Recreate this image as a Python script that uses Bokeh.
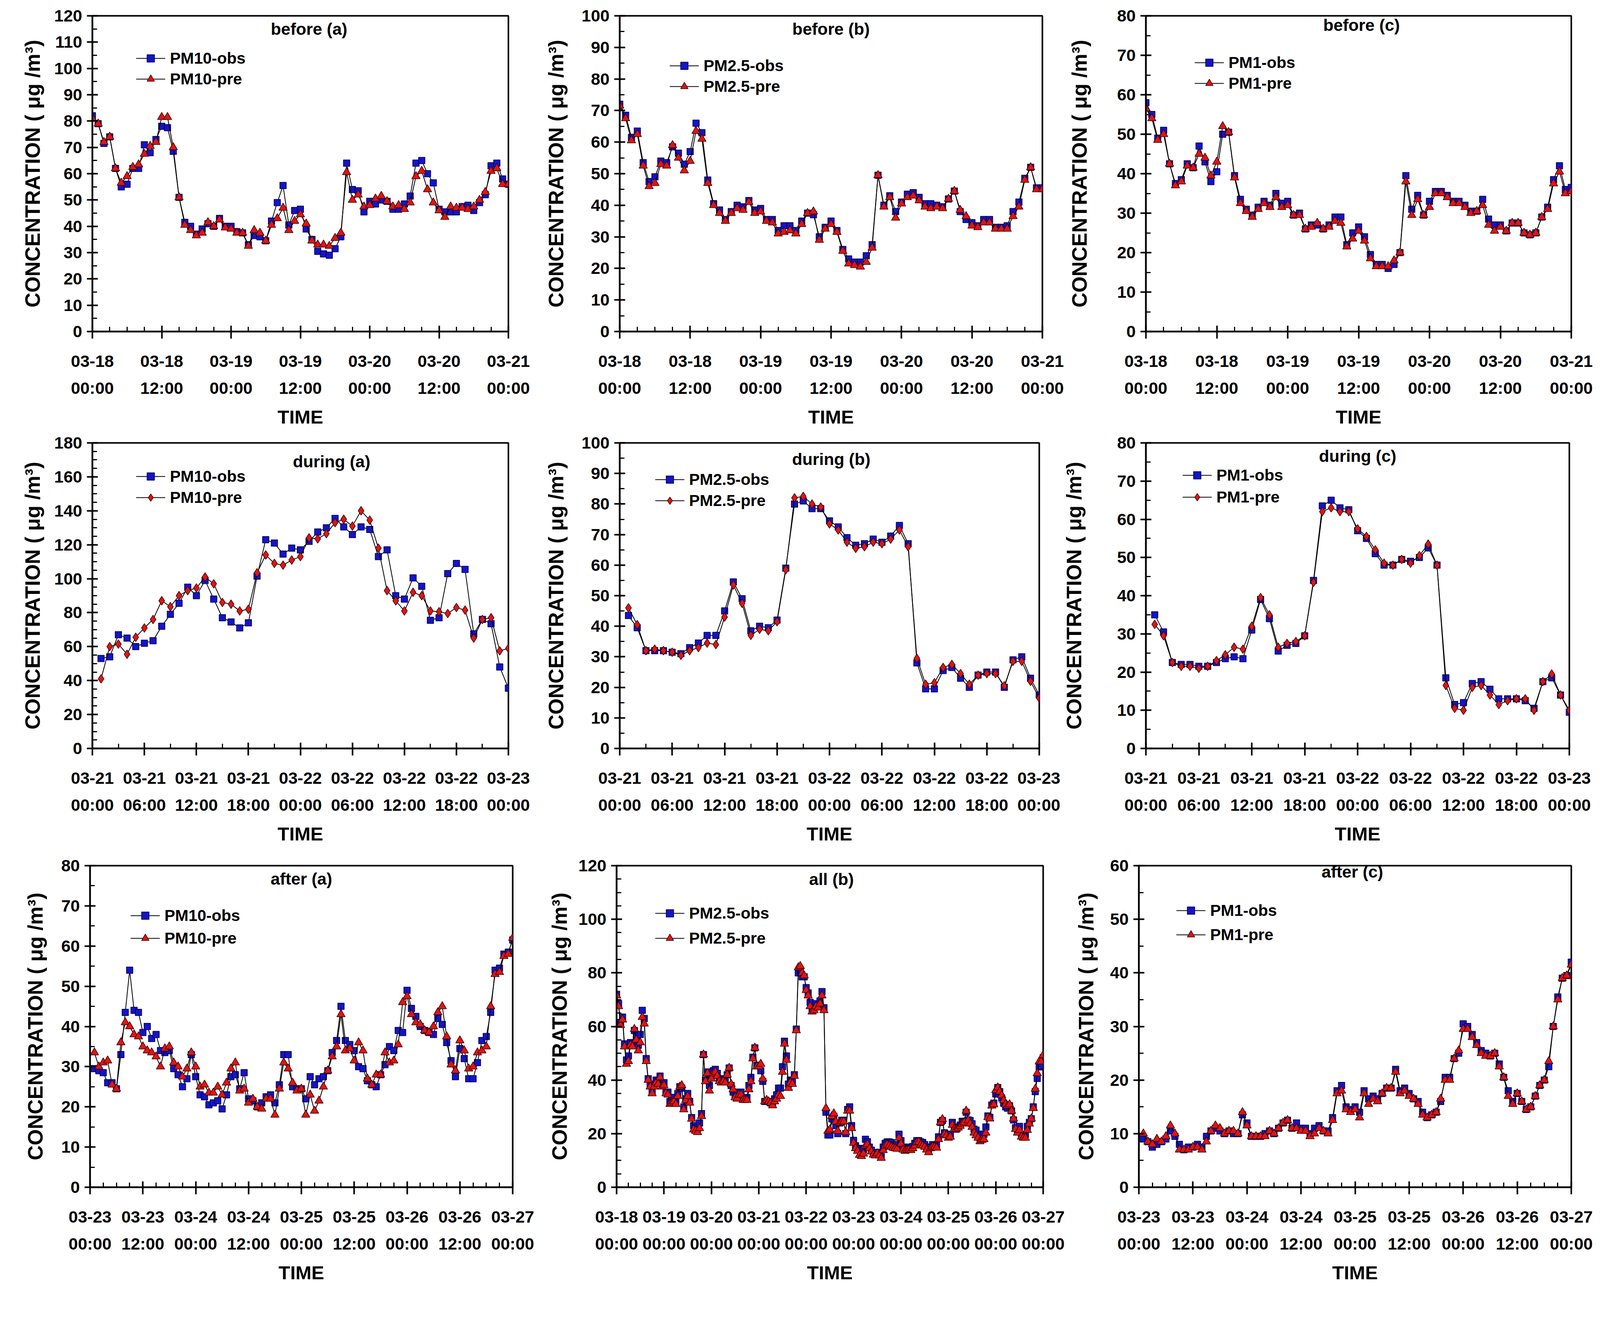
from bokeh.plotting import figure
from bokeh.models import Range1d, FixedTicker, SingleIntervalTicker, Legend, LegendItem, Label
from bokeh.layouts import column, row
from bokeh.embed import file_html
from bokeh.resources import INLINE

# ---------------- data ----------------
before_hours = list(range(0, 73))
during_hours = list(range(1, 49))
after_hours = list(range(1, 97))
all_hours = list(range(0, 217))

before_labels = ["03-18\n00:00", "03-18\n12:00", "03-19\n00:00", "03-19\n12:00",
                 "03-20\n00:00", "03-20\n12:00", "03-21\n00:00"]
during_labels = ["03-21\n00:00", "03-21\n06:00", "03-21\n12:00", "03-21\n18:00", "03-22\n00:00",
                 "03-22\n06:00", "03-22\n12:00", "03-22\n18:00", "03-23\n00:00"]
after_labels = ["03-23\n00:00", "03-23\n12:00", "03-24\n00:00", "03-24\n12:00", "03-25\n00:00",
                "03-25\n12:00", "03-26\n00:00", "03-26\n12:00", "03-27\n00:00"]
all_labels = ["03-18\n00:00", "03-19\n00:00", "03-20\n00:00", "03-21\n00:00", "03-22\n00:00",
              "03-23\n00:00", "03-24\n00:00", "03-25\n00:00", "03-26\n00:00", "03-27\n00:00"]

before_a_obs = [82, 79, 71.5, 74, 62, 55, 56, 62, 62, 71, 68, 73, 78, 77.5, 68.5, 51, 41.5, 40, 37, 39,
                41, 40, 43, 40, 40, 38, 37.5, 33, 36.5, 36, 34.5, 42, 49, 55.5, 40.5, 46, 46.5, 39, 35, 30.5,
                29.5, 29, 31.5, 36, 64, 54, 53.5, 45.5, 49.5, 48.5, 50, 49.5, 46.5, 46.5, 48.5, 51.5, 64, 65,
                60, 56.5, 46.5, 45.5, 45.5, 45.5, 47.5, 48, 46, 49, 52, 63, 64, 58, 56]
before_a_pre = [81, 79, 72, 74, 62, 56.5, 59, 62.5, 63.5, 67.5, 70.5, 72, 81.5, 81.5, 70, 51, 40.5, 38.5,
                36.5, 37.5, 41.5, 40, 42.5, 39.5, 39, 37.5, 37.5, 32.5, 38.5, 37.5, 34.5, 40.5, 43, 47, 38.5,
                42, 44.5, 41, 34.5, 33, 33, 32.5, 35.5, 37.5, 60.5, 50, 52, 47.5, 48, 50.5, 51.5, 49.5, 47.5,
                48, 46.5, 49, 59, 61, 54, 49, 46, 43.5, 47.5, 47, 47, 46.5, 47.5, 50, 53, 61, 62, 56, 56]

before_b_obs = [72, 68.5, 61.5, 63.5, 53.5, 47.5, 49, 54, 53.5, 58.5, 56.5, 53, 57, 66, 63, 48, 40.5, 38.5,
                35.5, 38, 40, 39.5, 41.5, 38.5, 39, 35.5, 35.5, 32, 33.5, 33.5, 32, 35, 37.5, 37, 30, 33, 35,
                32, 26, 23, 22, 22, 24, 27.5, 49.5, 40, 43, 38, 41, 43.5, 44, 42.5, 40.5, 40.5, 40, 39.5, 42,
                44.5, 38, 35.5, 34.5, 33.5, 35.5, 35.5, 33, 33, 33.5, 38, 41, 48.5, 52, 45.5, 45.5]
before_b_pre = [71.5, 67.5, 60.5, 62.5, 52.5, 46, 47, 53, 52.5, 59, 55, 51, 54, 63.5, 61, 47, 40, 37.5, 35,
                37.5, 39, 38.5, 41, 37.5, 38, 35, 34.5, 31, 31.5, 32, 31, 34, 37.5, 38, 29, 32.5, 34, 31.5,
                25.5, 21.5, 21, 20.5, 22, 26.5, 49.5, 39.5, 42.5, 36, 40.5, 42.5, 43, 41.5, 39.5, 39, 39.5,
                39, 42, 44.5, 38.5, 36.5, 33.5, 33, 34.5, 34.5, 32.5, 32.5, 32.5, 36.5, 39.5, 48, 52, 45, 45]

before_c_obs = [58, 55, 49, 51, 42.5, 37.5, 38.5, 42.5, 41.5, 47, 43, 38, 40.5, 50, 50.5, 39.5, 33.5, 31,
                29.5, 31.5, 33, 32, 35, 32.5, 33, 29.5, 30, 26, 27, 27, 26, 27, 29, 29, 22, 25, 26.5, 24,
                19.5, 17, 17, 16, 17, 20, 39.5, 31, 34.5, 29.5, 33, 35.5, 35.5, 34.5, 33, 33, 32, 30.5, 30.5,
                33.5, 28.5, 27, 27, 25.5, 27.5, 27.5, 25, 24.5, 25, 29, 31.5, 38.5, 42, 36, 36.5]
before_c_pre = [56.5, 54, 48.5, 50, 42.5, 37, 38, 42, 41.5, 45, 44, 39.5, 43, 52, 50.5, 39, 32.5, 30.5, 29,
                31, 32.5, 31.5, 34, 31.5, 32, 29.5, 29.5, 26, 26.5, 27.5, 26, 26.5, 28, 27.5, 21.5, 23.5,
                25.5, 23, 18.5, 16.5, 16.5, 16.5, 18, 20, 38, 29.5, 33.5, 29.5, 31.5, 35, 35, 34, 32.5, 32.5,
                31.5, 30, 30.5, 32, 27, 25.5, 26.5, 25.5, 27.5, 27.5, 25, 24.5, 25, 29, 31, 37.5, 40.5, 35, 35.5]

during_a_obs = [53, 54, 67, 65, 60, 62, 63.5, 72, 79, 85.5, 95, 90, 99, 88, 77, 74.5, 71, 74, 101.5, 123,
                121, 114.5, 118, 117, 122, 127.5, 130, 135.5, 130.5, 126, 130.5, 129, 113, 117, 90, 88,
                100.5, 95.5, 75.5, 77, 103, 109, 105.5, 67.5, 76, 73.5, 48, 35.5]
during_a_pre = [41, 60, 61.5, 55.5, 65.5, 71, 76, 87, 83.5, 90, 93, 94.5, 101, 97, 86, 85, 81, 82, 103.5,
                114, 109, 108, 111, 113, 124, 123.5, 126.5, 133, 135, 131, 140, 134.5, 118, 93, 87, 81, 92,
                90, 81, 80.5, 79.5, 83, 81.5, 65, 76, 77, 57.5, 59]

during_b_obs = [43.5, 39.5, 32, 32, 32, 31.5, 31, 33, 34.5, 37, 37, 45, 54.5, 49, 38.5, 40, 39.5, 42, 59, 80,
                81, 78.5, 78.5, 74.5, 72.5, 69, 66.5, 67, 68.5, 67.5, 69.5, 73, 67, 28, 19.5, 19.5, 25.5,
                26.5, 23, 20, 24, 25, 25, 20, 29, 30, 23, 17.5]
during_b_pre = [46, 40.5, 32, 32.5, 32, 31.5, 30.5, 32, 33, 34.5, 34, 43, 53.5, 47.5, 37, 39, 38.5, 41.5,
                58.5, 82, 82.5, 80, 79, 73.5, 71.5, 67.5, 65.5, 66, 67.5, 67, 68.5, 71.5, 66, 29.5, 21, 21.5,
                26.5, 27.5, 24.5, 21, 24, 24.5, 24.5, 20.5, 28.5, 28.5, 22, 16.5]

during_c_obs = [35, 30.5, 22.5, 22, 22, 21.5, 21.5, 22.5, 23.5, 24, 23.5, 31, 39, 34, 25.5, 27, 27.5, 29.5,
                44, 63.5, 65, 63, 62.5, 57, 55, 51, 48, 48, 49.5, 49, 50, 52.5, 48, 18.5, 11.5, 12, 17, 17.5,
                15.5, 13, 13, 13, 12.5, 10.5, 17.5, 18.5, 14, 9.5]
during_c_pre = [32.5, 29.5, 22.5, 21.5, 21.5, 21, 21.5, 23, 24.5, 26.5, 26, 32, 39.5, 35, 26.5, 27.5, 28,
                29.5, 43.5, 62, 63, 62, 62, 57.5, 55.5, 52, 48.5, 48, 49.5, 48.5, 50.5, 53.5, 48, 16.5, 10.5,
                10, 16, 16.5, 14, 11.5, 12.5, 13, 13, 10, 17.5, 19.5, 14, 10]

after_a_obs = [29.5, 29, 28.5, 26, 26, 24.5, 33, 43.5, 54, 44, 43.5, 38.5, 40, 37, 38, 34, 33.5, 34, 29.5,
               28, 25, 27, 33, 27.5, 23, 22.5, 20.5, 21, 21.5, 19.5, 23, 27.5, 28, 24.5, 28.5, 22, 21.5, 20,
               21, 22.5, 23, 21, 25.5, 33, 33, 25, 24.5, 24.5, 22, 27.5, 25.5, 27, 27.5, 29, 33.5, 36.5, 45,
               36.5, 35.5, 34, 30, 29.5, 26.5, 25.5, 25, 28, 30.5, 35, 34, 39, 38.5, 49, 44.5, 42.5, 40, 39,
               38.5, 38, 42, 40.5, 36, 31.5, 27.5, 34.5, 32, 27, 27, 31, 36.5, 37.5, 43.5, 54, 54.5, 58,
               58.5, 61.5]
after_a_pre = [33.5, 30, 31, 31.5, 25.5, 24.5, 36, 41, 40, 38, 37.5, 35, 34, 33.5, 32.5, 30, 34.5, 35, 31,
               30, 27.5, 29.5, 33.5, 30, 25, 25.5, 23.5, 23.5, 25, 23, 26, 29.5, 31, 24, 24.5, 21, 22, 20,
               19.5, 22, 22, 18, 24.5, 31, 29.5, 26, 24, 24.5, 18, 23, 19, 21.5, 25, 29, 32.5, 35, 43, 34,
               34.5, 31.5, 36, 34, 27, 25.5, 28, 28, 33.5, 31, 31.5, 35.5, 46, 47.5, 43, 41, 40.5, 39, 38.5,
               40, 43.5, 45, 37.5, 30.5, 29, 36.5, 34, 29.5, 30, 33.5, 34, 35, 45, 53, 53.5, 57.5, 58, 62]

after_b_obs = [15.5, 14.5, 14.5, 14, 14, 17.9, 17, 15, 13.8, 12.6, 12.3, 13, 12.3, 11.4, 15, 16.4, 16.9,
               16.9, 16.7, 15.9, 15.5, 15.9, 19.8, 17.4, 15, 14.5, 14.7, 15, 14.5, 15.2, 16.4, 17.4, 17.4,
               16.9, 16.7, 15.9, 15, 14.3, 15, 15.9, 15.5, 15.7, 18.8, 24.2, 24.9, 20.3, 19.8, 18.8, 19.8,
               24.2, 22.2, 21.7, 22.5, 23.2, 24.6, 24.6, 28, 25.1, 24.9, 23.7, 21.7, 21.3, 19.3, 18.4, 19.8,
               19.8, 22.5, 26.6, 26.1, 30.7, 31.4, 34.8, 37.2, 35.7, 33.3, 31.4, 30, 29.5, 30.4, 28.5, 25.1,
               22.2, 21.3, 22.7, 19.8, 18.8, 19.8, 22.7, 24.2, 25.6, 30, 35.7, 40.6, 44.9, 45.4, 48.3]
after_b_pre = [14.5, 13.5, 12, 11.6, 12.5, 15.5, 16, 14.5, 13.3, 12.1, 11.8, 12.6, 11.8, 10.9, 13.8, 15.5,
               15.9, 15.5, 15, 14.7, 14.5, 14.3, 18.4, 16.2, 14, 13.5, 13.8, 14, 13.8, 14.5, 15.5, 16.7,
               16.9, 15.9, 15.5, 15, 14, 13, 14.5, 15, 15, 14.7, 17.9, 24.2, 25.4, 19.8, 19.3, 18.4, 18.8,
               23.2, 21.7, 21.7, 22.2, 22.9, 23.7, 24.2, 28.5, 24.9, 23.7, 22.5, 20.3, 19.3, 18.4, 17.1,
               17.6, 17.9, 20.3, 26.1, 25.6, 30.4, 30.9, 36.2, 37.2, 35.7, 34.3, 32.4, 30.9, 30.4, 30.9,
               28.5, 25.6, 21.7, 20.3, 21.3, 18.8, 18.4, 18.4, 21.3, 23.7, 25.6, 29.5, 36.7, 42.5, 46.9,
               46.9, 49.3]

after_c_obs = [9, 8.5, 7.5, 8, 8.5, 9, 10.5, 9.5, 8, 7, 7.5, 7.5, 8, 7.5, 9.5, 10.5, 11, 10.5, 10, 10.5,
               10, 10, 13.5, 12, 9.5, 9.5, 9.5, 10, 10.5, 10, 11, 12, 12.5, 11, 12, 11, 11, 10, 11, 11.5,
               10.5, 10.5, 13, 18, 19, 15, 14.5, 15, 14, 18, 16.5, 17, 16.5, 17.5, 18.5, 18.5, 22, 18, 18.5,
               17.5, 16.5, 16, 14, 13, 13.5, 14, 16, 20.5, 20.5, 24, 25, 30.5, 30, 28.5, 27, 25.5, 25, 24.5,
               25, 23, 20.5, 18, 16, 17.5, 16, 14.5, 15, 17, 19, 20, 22.5, 30, 35.5, 39, 39.5, 42]
after_c_pre = [10, 8.5, 8, 9, 8.5, 9.5, 11.5, 10, 7, 7, 7, 7.5, 7.5, 7, 8.5, 10.5, 11.5, 11, 10, 10.5,
               10.5, 10, 14, 11.5, 9.5, 9.5, 9.5, 9.5, 10.5, 10, 11, 12, 12.5, 11, 11, 10.5, 10.5, 9.5, 10,
               11, 10.5, 10, 12.5, 17.5, 18, 14.5, 14, 14.5, 13, 17.5, 15.5, 16.5, 16, 17.5, 18.5, 18.5,
               21.5, 17.5, 18, 17, 16.5, 15.5, 13.5, 13, 13.5, 14, 16.5, 20, 20, 24, 25.5, 29.5, 29.5, 28,
               26.5, 25, 24.5, 24.5, 25, 22.5, 20.5, 17, 15.5, 17.5, 16, 14.5, 15, 17, 19, 20, 23.5, 30, 35,
               39, 39.5, 41.5]

all_b_obs = before_b_obs + during_b_obs + after_b_obs
all_b_pre = before_b_pre + during_b_pre + after_b_pre

# ---------------- styling ----------------
FONT = "Liberation Sans"
OBS_FILL, OBS_LINE = "#1414C8", "#000040"
PRE_FILL, PRE_LINE = "#E01414", "#3A0000"
YLABEL = "CONCENTRATION ( \u03bcg /m\u00b3)"
GH = 48


def xaxis_spec(kind):
    if kind == "before":
        return 72, list(range(0, 73, 12)), list(range(0, 73, 3)), before_labels
    if kind == "during":
        return 48, list(range(0, 49, 6)), list(range(0, 49, 3)), during_labels
    if kind == "after":
        return 96, list(range(0, 97, 12)), list(range(0, 97, 3)), after_labels
    return 216, list(range(0, 217, 24)), list(range(0, 217, 6)), all_labels


def panel(title, kind, hours, obs, pre, names, pre_marker, ymax, yint, ynminor,
          W, bl, fw, bt, fh, bb, ylab_standoff, title_xy, leg_x, leg_r1, leg_sp):
    xmax, majors, minors, labels = xaxis_spec(kind)
    p = figure(width=W, height=bt + fh + bb, output_backend="svg", toolbar_location=None,
               x_range=Range1d(0, xmax), y_range=Range1d(0, ymax),
               min_border_left=bl, min_border_right=W - bl - fw,
               min_border_top=bt, min_border_bottom=bb,
               background_fill_color="white", border_fill_color="white")
    p.xgrid.visible = False
    p.ygrid.visible = False
    p.outline_line_color = "black"
    p.outline_line_width = 4

    xa, ya = p.xaxis[0], p.yaxis[0]
    for ax in (xa, ya):
        ax.axis_line_width = 4
        ax.axis_line_color = "black"
        ax.major_tick_line_width = 4
        ax.minor_tick_line_width = 3
        ax.minor_tick_in = 12
        ax.minor_tick_out = 0
        ax.major_label_text_font = FONT
        ax.major_label_text_font_style = "bold"
        ax.major_label_text_font_size = "43px"
        ax.major_label_text_color = "black"
        ax.axis_label_text_font = FONT
        ax.axis_label_text_font_style = "bold"
        ax.axis_label_text_color = "black"
    xa.major_tick_in = 15
    xa.major_tick_out = 18
    ya.major_tick_in = 14
    ya.major_tick_out = 14

    xa.ticker = FixedTicker(ticks=majors, minor_ticks=minors)
    xa.major_label_overrides = {t: s for t, s in zip(majors, labels)}
    xa.major_label_standoff = 33
    xa.major_label_text_line_height = 1.44
    xa.axis_label = "TIME"
    xa.axis_label_text_font_size = "49px"
    xa.axis_label_standoff = 20

    ya.ticker = SingleIntervalTicker(interval=yint, num_minor_ticks=ynminor)
    ya.major_label_standoff = 12
    ya.axis_label = YLABEL
    ya.axis_label_text_font_size = "53px"
    ya.axis_label_standoff = ylab_standoff

    l1 = p.line(hours, obs, line_color="black", line_width=2)
    s1 = p.scatter(hours, obs, marker="square", size=16.5, fill_color=OBS_FILL,
                   line_color=OBS_LINE, line_width=1.5)
    l2 = p.line(hours, pre, line_color="black", line_width=2)
    psize = 21.5 if pre_marker == "triangle" else 22.5
    s2 = p.scatter(hours, pre, marker=pre_marker, size=psize, fill_color=PRE_FILL,
                   line_color=PRE_LINE, line_width=1.5)

    leg_h = 2 * GH + leg_sp
    leg = Legend(items=[LegendItem(label=names[0], renderers=[l1, s1]),
                        LegendItem(label=names[1], renderers=[l2, s2])],
                 location=(leg_x, fh - (leg_r1 - GH // 2) - leg_h),
                 padding=0, margin=0, spacing=leg_sp, glyph_width=75, glyph_height=GH,
                 label_height=GH, label_standoff=12,
                 label_text_font=FONT, label_text_font_style="bold",
                 label_text_font_size="41px", label_text_color="black",
                 border_line_alpha=0, background_fill_alpha=0)
    p.add_layout(leg)

    p.add_layout(Label(x=title_xy[0], y=title_xy[1], text=title, text_font=FONT,
                       text_font_style="bold", text_font_size="43px", text_color="black",
                       text_align="center", text_baseline="middle"))
    return p


# row 1  (W, left border, frame width, top, frame height, bottom)
p1 = panel("before (a)", "before", before_hours, before_a_obs, before_a_pre, ["PM10-obs", "PM10-pre"],
           "triangle", 120, 10, 2, 1361, 236, 1065, 40, 808, 253, 23, (37.5, 115), 112, 109, 5)
p2 = panel("before (b)", "before", before_hours, before_b_obs, before_b_pre, ["PM2.5-obs", "PM2.5-pre"],
           "triangle", 100, 10, 2, 1363, 225, 1082, 40, 808, 253, 33, (36, 95.8), 128, 128, 5)
p3 = panel("before (c)", "before", before_hours, before_c_obs, before_c_pre, ["PM1-obs", "PM1-pre"],
           "triangle", 80, 10, 2, 1428, 209, 1089, 40, 808, 253, 64, (36.5, 77.7), 125, 120, 5)
# row 2
p4 = panel("during (a)", "during", during_hours, during_a_obs, during_a_pre, ["PM10-obs", "PM10-pre"],
           "diamond", 180, 20, 4, 1361, 236, 1065, 32, 782, 270, 23, (27.6, 169), 112, 86, 6)
p5 = panel("during (b)", "during", during_hours, during_b_obs, during_b_pre, ["PM2.5-obs", "PM2.5-pre"],
           "diamond", 100, 10, 2, 1353, 225, 1074, 32, 782, 270, 33, (24.2, 94.7), 91, 94, 6)
p6 = panel("during (c)", "during", during_hours, during_c_obs, during_c_pre, ["PM1-obs", "PM1-pre"],
           "diamond", 80, 10, 2, 1438, 219, 1084, 32, 782, 270, 78, (24, 76.6), 94, 83, 8)
# row 3
p7 = panel("after (a)", "after", after_hours, after_a_obs, after_a_pre, ["PM10-obs", "PM10-pre"],
           "triangle", 80, 10, 2, 1368, 230, 1082, 30, 823, 300, 34, (48, 76.7), 104, 128, 10)
p8 = panel("all (b)", "all", all_hours, all_b_obs, all_b_pre, ["PM2.5-obs", "PM2.5-pre"],
           "triangle", 120, 20, 4, 1360, 210, 1092, 30, 823, 300, 16, (108.8, 115), 99, 122, 16)
p9 = panel("after (c)", "after", after_hours, after_c_obs, after_c_pre, ["PM1-obs", "PM1-pre"],
           "triangle", 60, 10, 2, 1424, 187, 1107, 30, 823, 300, 29, (47.4, 58.9), 96, 115, 14)

layout = column(row(p1, p2, p3), row(p4, p5, p6), row(p7, p8, p9))
open("out.html", "w").write(file_html(layout, INLINE))
